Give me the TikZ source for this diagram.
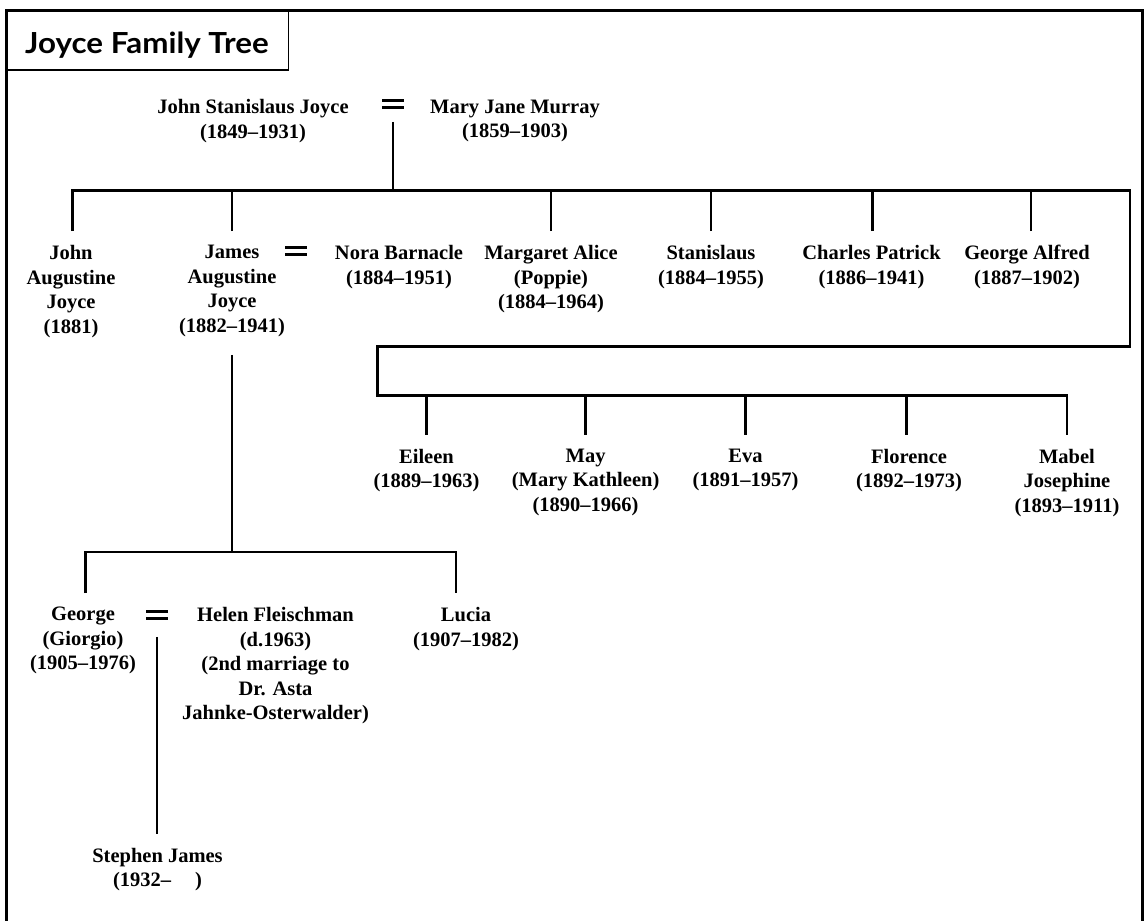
\documentclass[tikz,border=0pt]{standalone}
\usepackage{fontspec}
\setmainfont{Liberation Serif}
\newfontfamily\titlefont{Lato}
\begin{document}
\begin{tikzpicture}[x=1pt,y=-1pt,
  tree/.style={line width=2.6pt, line join=miter},
  person/.style={font=\fontsize{20.5}{24.5}\selectfont\bfseries, align=center, anchor=north, inner xsep=2pt, inner ysep=14pt},
  eqsign/.style={minimum width=22pt, minimum height=10.3pt, inner sep=0pt,
    path picture={\fill (path picture bounding box.north west) rectangle ([yshift=-3pt]path picture bounding box.north east);
                  \fill (path picture bounding box.south west) rectangle ([yshift=3pt]path picture bounding box.south east);}},
  titletext/.style={font=\titlefont\bfseries\fontsize{29}{32}\selectfont, anchor=base west, inner sep=0pt}
]
\useasboundingbox (0,0) rectangle (1146,921);
\fill[white] (0,0) rectangle (1146,921);

% frame and title box
\draw[line width=1.5pt] (6.7,70) -- (288.7,70) -- (288.7,10.7);
\draw[line width=2.6pt, line join=miter] (6.7,940) -- (6.7,10.7) -- (1142.7,10.7) -- (1142.7,940);
\node[titletext] (title) at (25,53) {\scalebox{1.08}[1]{Joyce Family Tree}};

% generation 1
\node[person] (jsj) at (253,85.4) {John Stanislaus Joyce\\(1849–1931)};
\node[eqsign] (eq1) at (393,104) {};
\node[person] (mjm) at (515,85.4) {Mary Jane Murray\\(1859–1903)};

% generation 2
\node[person] (jaj) at (71,231.1) {John\\Augustine\\Joyce\\(1881)};
\node[person] (james) at (232,231.1) {James\\Augustine\\Joyce\\(1882–1941)};
\node[eqsign] (eq2) at (296,251) {};
\node[person] (nora) at (399,231.1) {Nora Barnacle\\(1884–1951)};
\node[person] (margaret) at (551,231.1) {Margaret Alice\\(Poppie)\\(1884–1964)};
\node[person] (stan) at (711,231.1) {Stanislaus\\(1884–1955)};
\node[person] (charles) at (871.5,231.1) {Charles Patrick\\(1886–1941)};
\node[person] (georgeA) at (1027,231.1) {George Alfred\\(1887–1902)};

% daughters
\node[person] (eileen) at (426.5,434.6) {Eileen\\(1889–1963)};
\node[person] (may) at (585.6,434.6) {May\\(Mary Kathleen)\\(1890–1966)};
\node[person] (eva) at (745.5,434.6) {Eva\\(1891–1957)};
\node[person] (florence) at (909,434.6) {Florence\\(1892–1973)};
\node[person] (mabel) at (1067,434.6) {Mabel\\Josephine\\(1893–1911)};

% generation 3
\node[person] (george) at (83,593.1) {George\\(Giorgio)\\(1905–1976)};
\node[eqsign] (eq3) at (157,615) {};
\node[person] (helen) at (275.5,593.1) {Helen Fleischman\\(d.1963)\\(2nd marriage to\\Dr. Asta\\Jahnke-Osterwalder)};
\node[person] (lucia) at (466,593.1) {Lucia\\(1907–1982)};

% generation 4
\node[person] (stephen) at (157.5,833.8) {Stephen James\\(1932–\hspace{24pt})};

% connectors
\coordinate (genbar) at (392.7,190.7);
\coordinate (boxTR) at (1130,190.7);
\coordinate (boxBR) at (1130,346.7);
\coordinate (boxBL) at (377.3,346.7);
\coordinate (dbarL) at (377.3,395.7);
\coordinate (g3bar) at (232,552);

\draw[tree, shorten <=12.5pt] (eq1.south) -- (eq1.south |- genbar);
\draw[tree] ([xshift=1.7pt]jaj.north) -- ([xshift=1.7pt]jaj.north |- genbar) -- (boxTR) -- (boxBR) -- (boxBL) -- (dbarL) -| (mabel.north);
\foreach \n/\s in {james/0, margaret/0, stan/0, charles/1, georgeA/4}
  \draw[tree] ([xshift=\s pt]\n.north) -- ([xshift=\s pt]\n.north |- genbar);
\foreach \n/\s in {eileen/0, may/0, eva/0, florence/-2.3}
  \draw[tree] ([xshift=\s pt]\n.north) -- ([xshift=\s pt]\n.north |- dbarL);

\draw[tree, shorten <=4pt] (james.south) -- (g3bar);
\draw[tree] ([xshift=2.7pt]george.north) |- ([xshift=-10pt]lucia.north |- g3bar) -- ([xshift=-10pt]lucia.north);
\draw[tree, shorten <=16.5pt] (eq3.south) -- (eq3.south |- stephen.north);
\end{tikzpicture}
\end{document}
